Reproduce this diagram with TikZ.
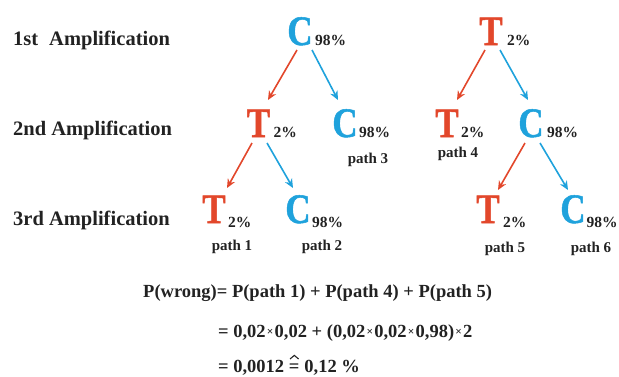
\documentclass[tikz,border=0pt]{standalone}
\usepackage{fontspec}
\setmainfont{Liberation Serif}
\newfontfamily\heavyserif{Liberation Serif}[UprightFont={* Bold}, UprightFeatures={FakeBold=1.2}]
\usetikzlibrary{arrows.meta}

\definecolor{baseRed}{HTML}{E2472B}
\definecolor{baseBlue}{HTML}{1FA2DC}
\definecolor{ink}{HTML}{222222}

% small multiplication sign
\newcommand\tmul{\kern1.2pt{\fontsize{11.5}{11.5}\selectfont\raisebox{0.1em}{×}}\kern1.2pt}

\tikzset{
  letter/.style={inner sep=0pt, anchor=base, font=\heavyserif\fontsize{35}{35}\selectfont},
  redbase/.style={letter, text=baseRed},
  bluebase/.style={letter, text=baseBlue},
  pct/.style={inner sep=0pt, anchor=base west, text=ink, font=\bfseries\fontsize{15.5}{15.5}\selectfont},
  pathlbl/.style={inner sep=0pt, anchor=base, text=ink, font=\bfseries\fontsize{15}{15}\selectfont},
  levellbl/.style={inner sep=0pt, anchor=base west, text=ink, font=\bfseries\fontsize{20.5}{20.5}\selectfont},
  eqline/.style={inner sep=0pt, anchor=base west, text=ink, font=\bfseries\fontsize{18.5}{18.5}\selectfont},
  redarrow/.style={draw=baseRed, line width=1.6pt, -{Stealth[length=9pt,width=8pt]}},
  bluearrow/.style={draw=baseBlue, line width=1.6pt, -{Stealth[length=9pt,width=8pt]}},
  hatmark/.style={draw=ink, line width=1.1pt, line join=miter},
}

\newcommand\bigT{\scalebox{1}[1.2]{T}}
\newcommand\bigC{\scalebox{1}[1.2]{C}}

\begin{document}
\begin{tikzpicture}[x=1pt, y=-1pt]
\useasboundingbox (0,0) rectangle (619,376);

% row labels
\node[levellbl] (l1) at (13,45) {1st\hspace{11pt}Amplification};
\node[levellbl] (l2) at (13,135) {2nd Amplification};
\node[levellbl] (l3) at (13,225) {3rd Amplification};

% first amplification
\node[bluebase] (c1) at (300,45) {\bigC};
\node[redbase]  (t1) at (491,45) {\bigT};
\node[pct] (c1p) at ([xshift=2pt]c1.base east) {98\%};
\node[pct] (t1p) at ([xshift=4pt]t1.base east) {2\%};

% second amplification
\node[redbase]  (t2a) at (258.5,137) {\bigT};
\node[bluebase] (c2b) at (345,137) {\bigC};
\node[redbase]  (t2c) at (447,137) {\bigT};
\node[bluebase] (c2d) at (531,137) {\bigC};
\node[pct] (t2ap) at ([xshift=3pt]t2a.base east) {2\%};
\node[pct] (c2bp) at ([xshift=1pt]c2b.base east) {98\%};
\node[pct] (t2cp) at ([xshift=2pt]t2c.base east) {2\%};
\node[pct] (c2dp) at ([xshift=3pt]c2d.base east) {98\%};

% third amplification
\node[redbase]  (t3a) at (214,223) {\bigT};
\node[bluebase] (c3b) at (298,223) {\bigC};
\node[redbase]  (t3c) at (488,223) {\bigT};
\node[bluebase] (c3d) at (573,223) {\bigC};
\node[pct] (t3ap) at ([xshift=2pt,yshift=-4pt]t3a.base east) {2\%};
\node[pct] (c3bp) at ([xshift=1pt,yshift=-4pt]c3b.base east) {98\%};
\node[pct] (t3cp) at ([xshift=3pt,yshift=-4pt]t3c.base east) {2\%};
\node[pct] (c3dp) at ([xshift=0.5pt,yshift=-4pt]c3d.base east) {98\%};

% path labels
\node[pathlbl] (p1) at (232,250) {path 1};
\node[pathlbl] (p2) at (322,250) {path 2};
\node[pathlbl] (p3) at (368,163) {path 3};
\node[pathlbl] (p4) at (458,157) {path 4};
\node[pathlbl] (p5) at (505,252) {path 5};
\node[pathlbl] (p6) at (591,252) {path 6};

% branches
\draw[redarrow]  ([shift={(-3,5)}]c1.base)  -- ([shift={(9.5,-37)}]t2a.base);
\draw[bluearrow] ([shift={(12,5)}]c1.base)  -- ([shift={(-7,-37)}]c2b.base);
\draw[redarrow]  ([shift={(-6,5)}]t1.base)  -- ([shift={(10,-37)}]t2c.base);
\draw[bluearrow] ([shift={(9,5)}]t1.base)   -- ([shift={(-3,-37)}]c2d.base);
\draw[redarrow]  ([shift={(-6.5,6)}]t2a.base) -- ([shift={(13,-35)}]t3a.base);
\draw[bluearrow] ([shift={(8.5,6)}]t2a.base)  -- ([shift={(-5,-35)}]c3b.base);
\draw[redarrow]  ([shift={(-6,6)}]c2d.base)   -- ([shift={(10,-33)}]t3c.base);
\draw[bluearrow] ([shift={(9,6)}]c2d.base)    -- ([shift={(-5,-33)}]c3d.base);

% probability of a wrong base
\node[eqline] (eq1) at (143,297) {P(wrong)= P(path 1) + P(path 4) + P(path 5)};
\node[eqline] (eq2) at (218,337) {= 0,02\tmul0,02 + (0,02\tmul0,02\tmul0,98)\tmul2};
\node[eqline] (eq3a) at (218,372) {= 0,0012 =};
\node[eqline] (eq3b) at ([xshift=4.6pt]eq3a.base east) {0,12 \%};
% hat over the last "=" (corresponds to)
\draw[hatmark] ([shift={(-9.6,-13)}]eq3a.base east) -- ++(4.3,-3.6) -- ++(4.3,3.6);
\end{tikzpicture}
\end{document}
